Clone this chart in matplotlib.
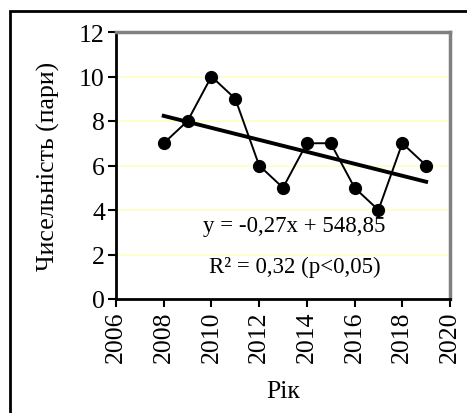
import matplotlib
matplotlib.use("Agg")
import matplotlib.pyplot as plt
import numpy as np

plt.rcParams['font.family'] = ['Liberation Serif', 'DejaVu Serif']

years = [2008, 2009, 2010, 2011, 2012, 2013, 2014, 2015, 2016, 2017, 2018, 2019]
pairs = [7, 8, 10, 9, 6, 5, 7, 7, 5, 4, 7, 6]
eq_text = "y = -0,27x + 548,85"
r2_text = "R² = 0,32 (p<0,05)"

fig = plt.figure(figsize=(4.67, 4.14), dpi=100)
ax = fig.add_axes([116 / 467, 1 - 300 / 414, (450 - 116) / 467, (300 - 33) / 414])

# outer frame (cut off at right and bottom like in the source)
fig.patches.append(plt.Rectangle((10 / 467, -0.1), 1.2, 1 - 12 / 414 + 0.1,
                                 transform=fig.transFigure, fill=False,
                                 edgecolor='black', linewidth=2))

ax.plot(years, pairs, color='black', linewidth=1.4, marker='o',
        markersize=8.5, zorder=3)

k, b = np.polyfit(years, pairs, 1)
xs = np.array([years[0], years[-1]])
ax.plot(xs, k * xs + b, color='black', linewidth=2.8, zorder=2)

ax.set_xlim(2006, 2020)
ax.set_ylim(0, 12)
ax.set_xticks(range(2006, 2021, 2))
ax.set_yticks(range(0, 13, 2))
fs = 18.5
ax.tick_params(axis='x', labelrotation=90, labelsize=fs, direction='out',
               length=6, width=1.5, pad=2)
ax.tick_params(axis='y', labelsize=fs, direction='out', length=6, width=1.5,
               pad=2)

for y in range(2, 12, 2):
    ax.axhline(y, color='#FFFFC4', linewidth=1.2, zorder=0)

ax.spines['left'].set_linewidth(2)
ax.spines['bottom'].set_linewidth(2)
ax.spines['top'].set_color('#808080')
ax.spines['right'].set_color('#808080')
ax.spines['top'].set_linewidth(2.5)
ax.spines['right'].set_linewidth(2.5)

ax.set_xlabel('Рік', fontsize=fs, va='center')
ax.set_ylabel('Чисельність (пари)', fontsize=fs, va='center')
ax.xaxis.set_label_coords(0.5, -(392 - 300) / 267)
ax.yaxis.set_label_coords(-(116 - 48) / 334, 0.5)

ax.text(2013.45, 3.3, eq_text, fontsize=16.5, ha='center', va='center')
ax.text(2013.5, 1.45, r2_text, fontsize=16.5, ha='center', va='center')

fig.savefig('out.png', dpi=100)
